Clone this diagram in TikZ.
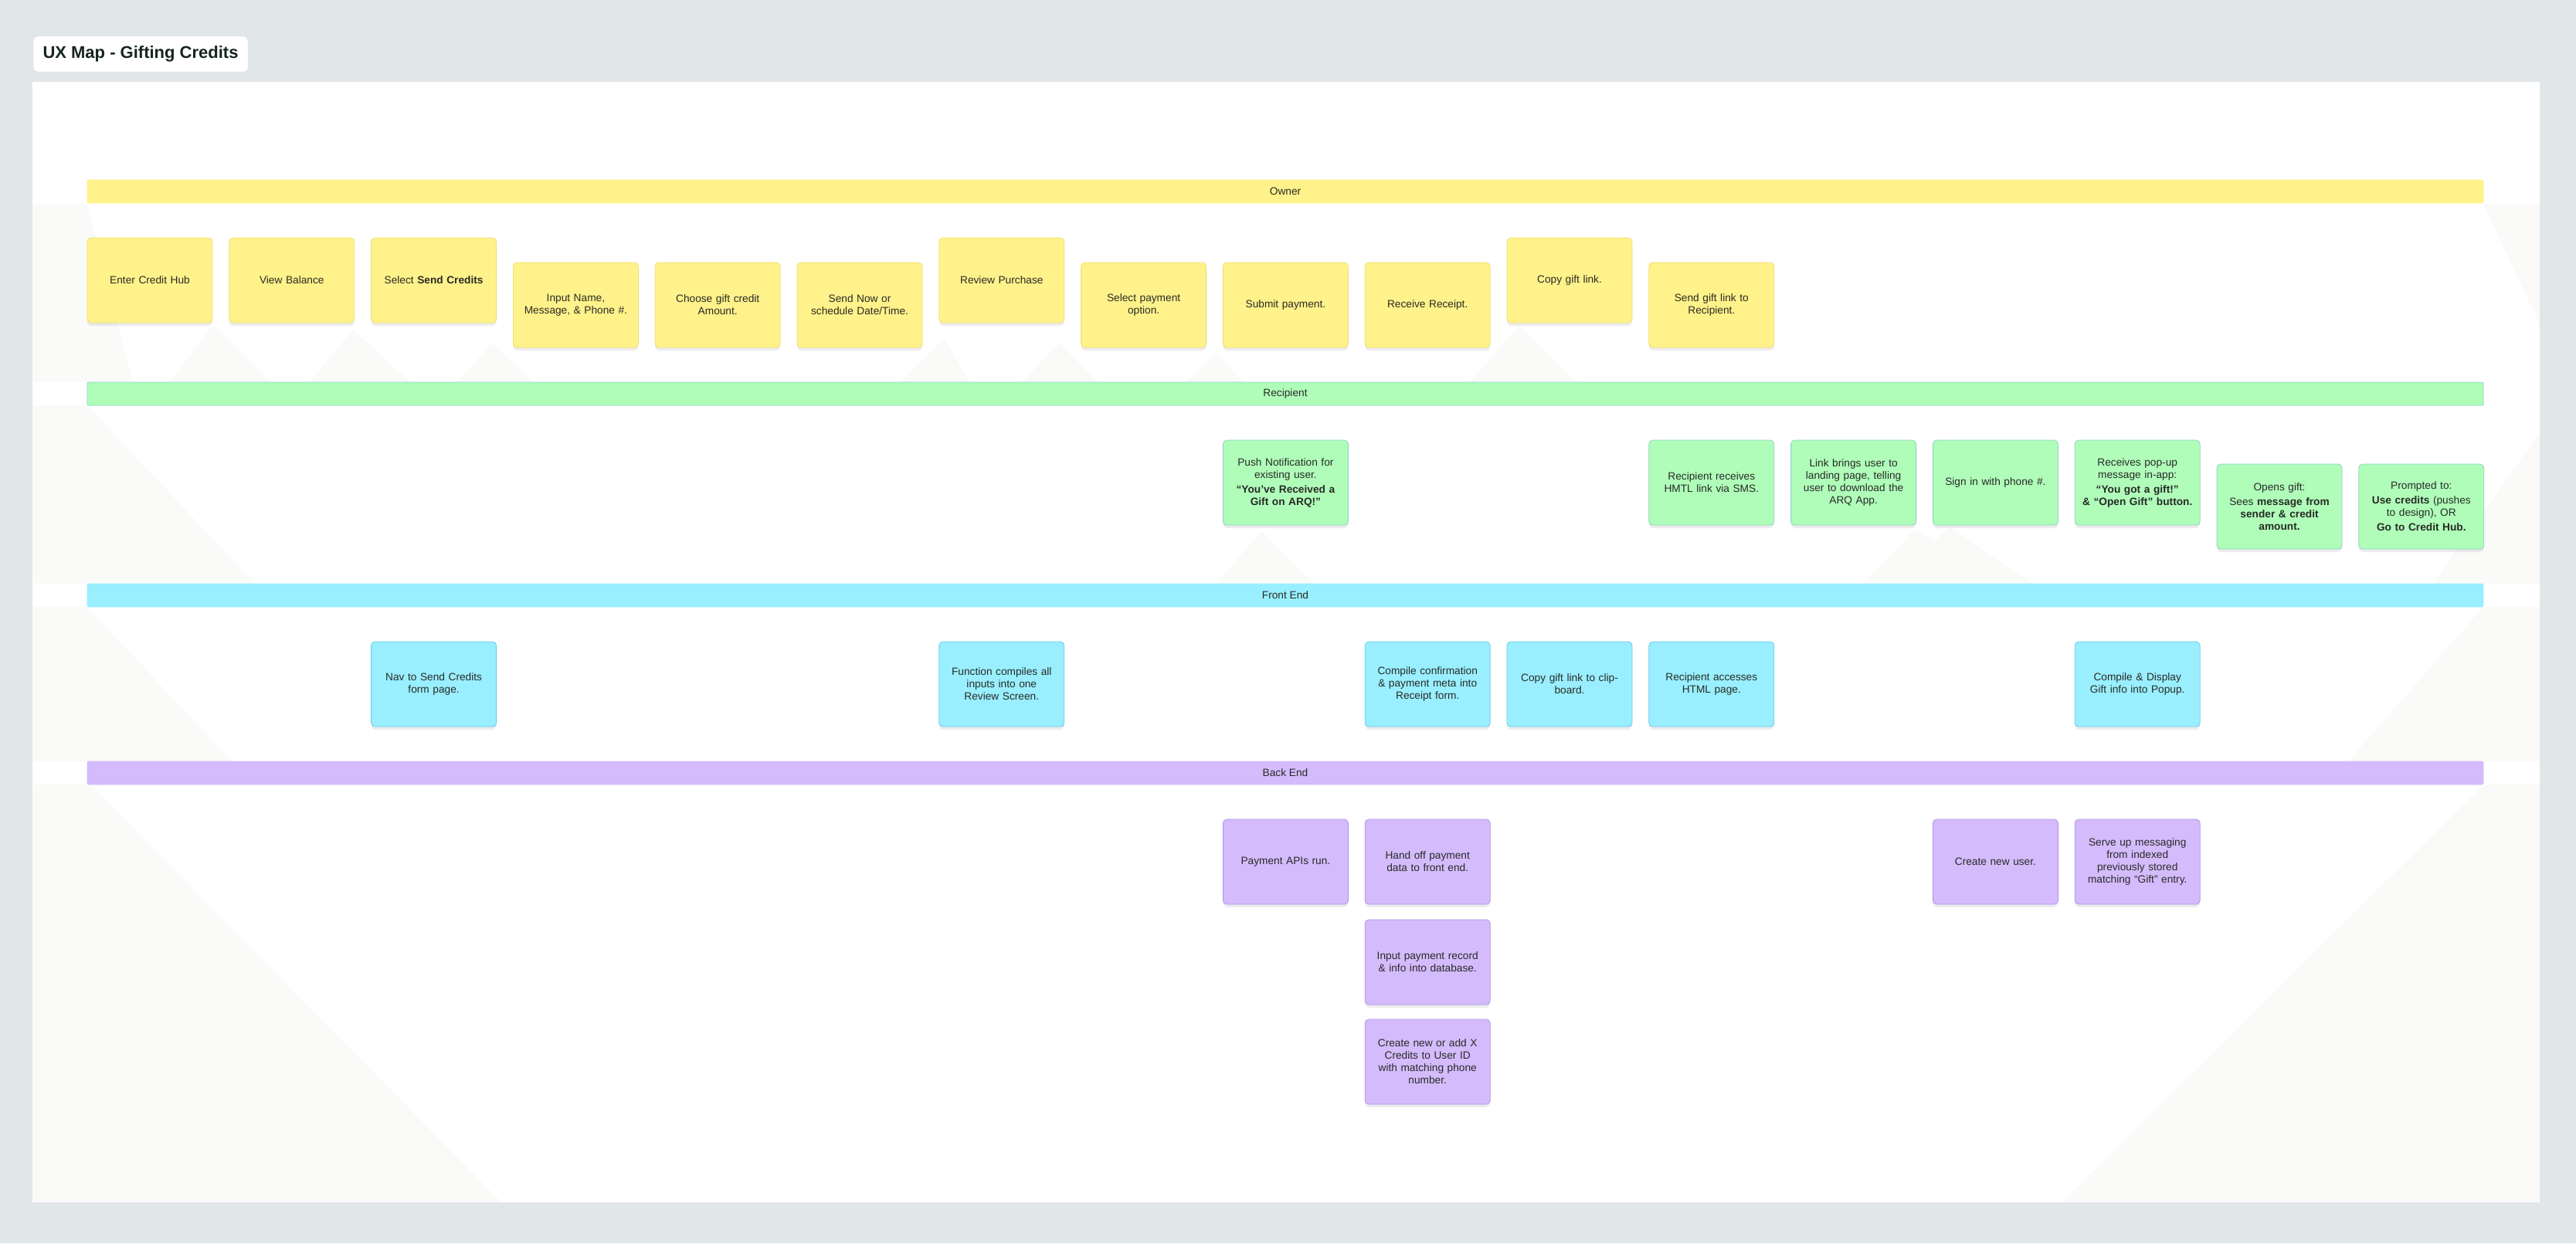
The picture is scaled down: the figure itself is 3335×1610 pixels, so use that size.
\documentclass[tikz,border=0pt]{standalone}
\usepackage{fontspec}
\setmainfont{Liberation Sans}
\usetikzlibrary{shadows}
\definecolor{outerbg}{RGB}{225,230,233}
\definecolor{faint}{RGB}{250,250,249}
\definecolor{txt}{RGB}{40,42,38}
\definecolor{titletxt}{RGB}{22,38,30}
\definecolor{yel}{RGB}{255,242,138}
\definecolor{yelb}{RGB}{240,222,115}
\definecolor{grn}{RGB}{176,253,186}
\definecolor{grnb}{RGB}{140,210,195}
\definecolor{cya}{RGB}{153,239,255}
\definecolor{cyab}{RGB}{110,200,235}
\definecolor{pur}{RGB}{212,187,252}
\definecolor{purb}{RGB}{175,145,232}
\tikzset{
  stk/.style={rounded corners=5pt, minimum width=162pt, minimum height=110pt,
    inner sep=0pt, text width=152pt, align=center, text=txt,
    font=\fontsize{13.7}{16}\selectfont, line width=0.8pt,
    drop shadow={shadow xshift=0pt, shadow yshift=-4pt, opacity=0.07, fill=black}},
  ystk/.style={stk, fill=yel, draw=yelb},
  gstk/.style={stk, fill=grn, draw=grnb},
  cstk/.style={stk, fill=cya, draw=cyab},
  pstk/.style={stk, fill=pur, draw=purb},
  lane/.style={minimum width=3102pt, minimum height=30pt, inner sep=0pt,
    rounded corners=2pt, text=txt, font=\fontsize{13.7}{16}\selectfont, line width=0.8pt},
  bg/.style={fill=faint, draw=none}
}
\begin{document}
\begin{tikzpicture}[x=1pt,y=-1pt]
\useasboundingbox (0,0) rectangle (3335,1610);
\fill[outerbg] (0,0) rectangle (3335,1610);
% canvas
\fill[white] (42,106) rectangle (3288,1557);
% faint background shapes
\fill[bg] (42,264) -- (113,264) -- (172,495) -- (42,495) -- cycle;
\fill[bg] (3215,264) -- (3288,264) -- (3288,420) -- cycle;
\fill[bg] (219,495) -- (276,421) -- (351,495) -- cycle;
\fill[bg] (400,495) -- (457,427) -- (532,495) -- cycle;
\fill[bg] (591,495) -- (638,444) -- (691,495) -- cycle;
\fill[bg] (1165,495) -- (1223,439) -- (1255,495) -- cycle;
\fill[bg] (1323,495) -- (1372,444) -- (1421,495) -- cycle;
\fill[bg] (1535,495) -- (1574,456) -- (1610,495) -- cycle;
\fill[bg] (1903,495) -- (1967,421) -- (2042,495) -- cycle;
\fill[bg] (42,525) -- (113,525) -- (330,756) -- (42,756) -- cycle;
\fill[bg] (3288,560) -- (3288,756) -- (3150,756) -- cycle;
\fill[bg] (1574,756) -- (1633,688) -- (1701,756) -- cycle;
\fill[bg] (2411,756) -- (2478,687) -- (2505,700) -- (2525,683) -- (2632,756) -- cycle;
\fill[bg] (42,786) -- (113,786) -- (300,986) -- (42,986) -- cycle;
\fill[bg] (3215,786) -- (3288,786) -- (3288,986) -- (3040,986) -- cycle;
\fill[bg] (42,1016) -- (117,1016) -- (649,1557) -- (42,1557) -- cycle;
\fill[bg] (3216,1016) -- (3288,1016) -- (3288,1557) -- (2669,1557) -- cycle;

% title
\node[fill=white, draw={rgb,255:red,218;green,222;blue,224}, rounded corners=6pt,
  minimum width=278pt, minimum height=46pt, inner sep=0pt, text=titletxt,
  font=\fontsize{22}{26}\bfseries\selectfont] (title) at (182,70) {UX Map - Gifting Credits};

% lanes
\node[lane, fill=yel, draw=yel] (owner) at (1664,248) {Owner};
\node[lane, fill=grn, draw=grnb] (recip) at (1664,510) {Recipient};
\node[lane, fill=cya, draw=cya] (front) at (1664,771) {Front End};
\node[lane, fill=pur, draw=pur] (back) at (1664,1001) {Back End};

% Owner
\node[ystk] (o1) at (194,363) {Enter Credit Hub};
\node[ystk] (o2) at (377.8,363) {View Balance};
\node[ystk] (o3) at (561.6,363) {Select \textbf{Send Credits}};
\node[ystk] (o4) at (745.4,395) {Input Name,\\Message, \& Phone \#.};
\node[ystk] (o5) at (929.2,395) {Choose gift credit\\Amount.};
\node[ystk] (o6) at (1113,395) {Send Now or\\schedule Date/Time.};
\node[ystk] (o7) at (1296.8,363) {Review Purchase};
\node[ystk] (o8) at (1480.6,395) {Select payment\\option.};
\node[ystk] (o9) at (1664.4,395) {Submit payment.};
\node[ystk] (o10) at (1848.2,395) {Receive Receipt.};
\node[ystk] (o11) at (2032,363) {Copy gift link.};
\node[ystk] (o12) at (2215.8,395) {Send gift link to\\Recipient.};

% Recipient
\node[gstk] (r1) at (1664.4,625) {Push Notification for\\existing user.\\[3pt]\textbf{“You’ve Received a}\\\textbf{Gift on ARQ!”}};
\node[gstk] (r2) at (2215.8,625) {Recipient receives\\HMTL link via SMS.};
\node[gstk] (r3) at (2399.6,625) {Link brings user to\\landing page, telling\\user to download the\\ARQ App.};
\node[gstk] (r4) at (2583.4,625) {Sign in with phone \#.};
\node[gstk] (r5) at (2767.2,625) {Receives pop-up\\message in-app:\\[3pt]\textbf{“You got a gift!”}\\\textbf{\& “Open Gift” button.}};
\node[gstk] (r6) at (2951,656) {Opens gift:\\[3pt]Sees \textbf{message from}\\\textbf{sender \& credit}\\\textbf{amount.}};
\node[gstk] (r7) at (3134.8,656) {Prompted to:\\[3pt]\textbf{Use credits} (pushes\\to design), OR\\[3pt]\textbf{Go to Credit Hub.}};

% Front End
\node[cstk] (f1) at (561.6,886) {Nav to Send Credits\\form page.};
\node[cstk] (f2) at (1296.8,886) {Function compiles all\\inputs into one\\Review Screen.};
\node[cstk] (f3) at (1848.2,886) {Compile confirmation\\\& payment meta into\\Receipt form.};
\node[cstk] (f4) at (2032,886) {Copy gift link to clip-\\board.};
\node[cstk] (f5) at (2215.8,886) {Recipient accesses\\HTML page.};
\node[cstk] (f6) at (2767.2,886) {Compile \& Display\\Gift info into Popup.};

% Back End
\node[pstk] (b1) at (1664.4,1116) {Payment APIs run.};
\node[pstk] (b2) at (1848.2,1116) {Hand off payment\\data to front end.};
\node[pstk] (b3) at (1848.2,1246) {Input payment record\\\& info into database.};
\node[pstk] (b4) at (1848.2,1375) {Create new or add X\\Credits to User ID\\with matching phone\\number.};
\node[pstk] (b5) at (2583.4,1116) {Create new user.};
\node[pstk] (b6) at (2767.2,1116) {Serve up messaging\\from indexed\\previously stored\\matching “Gift” entry.};
\end{tikzpicture}
\end{document}
